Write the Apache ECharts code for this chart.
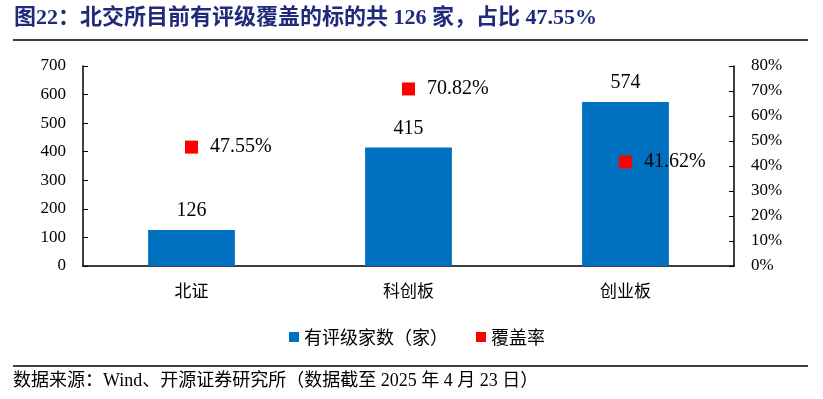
<!DOCTYPE html>
<html>
<head>
<meta charset="utf-8">
<script src="https://cdn.jsdelivr.net/npm/echarts@6/dist/echarts.min.js"></script>
<style>
  html, body { margin: 0; padding: 0; background: #fff; }
  #main { width: 823px; height: 399px; }
</style>
</head>
<body>
<div id="main"></div>
<script>
var categories = ['北证', '科创板', '创业板'];
var ratedCount = [126, 415, 574];
var coverRate = [47.55, 70.82, 41.62];

var serif = '"Liberation Serif", "Times New Roman", serif';
var cjk = '"Noto Sans CJK SC", sans-serif';
var mixed = '"Liberation Serif", "Noto Sans CJK SC", serif';

var chart = echarts.init(document.getElementById('main'));

var option = {
  animation: false,
  backgroundColor: '#fff',
  graphic: [
    {
      type: 'text', left: 14, top: 7,
      style: {
        text: '图22：北交所目前有评级覆盖的标的共 126 家，占比 47.55%',
        fill: '#1F2A7A', fontSize: 22, fontWeight: 'bold',
        fontFamily: mixed
      }
    },
    {
      type: 'line', shape: { x1: 13, y1: 40, x2: 808, y2: 40 },
      style: { stroke: '#000', lineWidth: 1.5 }
    },
    {
      type: 'line', shape: { x1: 13, y1: 366, x2: 808, y2: 366 },
      style: { stroke: '#000', lineWidth: 1.5 }
    },
    {
      type: 'text', left: 13, top: 372,
      style: {
        text: '数据来源：Wind、开源证券研究所（数据截至 2025 年 4 月 23 日）',
        fill: '#000', fontSize: 18,
        fontFamily: mixed
      }
    }
  ],
  legend: {
    left: 284, top: 323,
    itemWidth: 10, itemHeight: 10, itemGap: 28,
    icon: 'rect',
    textStyle: { fontSize: 18, fontFamily: cjk, color: '#000' },
    data: ['有评级家数（家）', '覆盖率']
  },
  grid: { left: 83, right: 89, top: 66, bottom: 133 },
  xAxis: {
    type: 'category',
    data: categories,
    axisLine: { lineStyle: { color: '#000', width: 1.5 } },
    axisTick: { inside: true, length: 6, lineStyle: { color: '#000' } },
    axisLabel: { fontSize: 17, fontFamily: cjk, color: '#000', margin: 16 }
  },
  yAxis: [
    {
      type: 'value', min: 0, max: 700, interval: 100,
      splitLine: { show: false },
      axisLine: { show: true, lineStyle: { color: '#000', width: 1.5 } },
      axisTick: { show: true, inside: true, length: 5, lineStyle: { color: '#000' } },
      axisLabel: { fontSize: 17, fontFamily: serif, color: '#000', margin: 17 }
    },
    {
      type: 'value', min: 0, max: 80, interval: 10,
      splitLine: { show: false },
      axisLine: { show: true, lineStyle: { color: '#000', width: 1.5 } },
      axisTick: { show: true, inside: true, length: 5, lineStyle: { color: '#000' } },
      axisLabel: { fontSize: 17, fontFamily: serif, color: '#000', margin: 17, formatter: '{value}%' }
    }
  ],
  series: [
    {
      name: '有评级家数（家）',
      type: 'bar',
      data: ratedCount,
      barWidth: '40%',
      itemStyle: { color: '#0070C0' },
      label: {
        show: true, position: 'top', distance: 9,
        fontSize: 20, fontFamily: serif, color: '#000'
      }
    },
    {
      name: '覆盖率',
      type: 'scatter',
      yAxisIndex: 1,
      data: coverRate,
      symbol: 'rect',
      symbolSize: 13,
      itemStyle: { color: '#FF0000', opacity: 1 },
      label: {
        show: true, position: 'right', distance: 12,
        fontSize: 20, fontFamily: serif, color: '#000',
        formatter: function (p) { return p.value.toFixed(2) + '%'; }
      }
    }
  ]
};

chart.setOption(option);
</script>
</body>
</html>
